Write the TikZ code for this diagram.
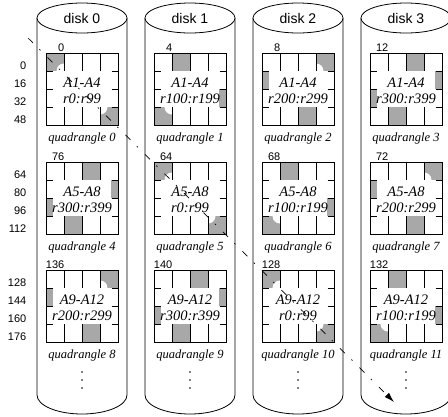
\documentclass[tikz,border=0pt]{standalone}
\usepackage{fontspec}
\setmainfont{Liberation Serif}
\setsansfont{Liberation Sans}
\usetikzlibrary{arrows.meta}
\definecolor{cellgray}{RGB}{168,168,168}
\tikzset{
  gridline/.style={line width=0.8pt, draw=black},
  numlab/.style={font=\sffamily\fontsize{11}{11}\selectfont, inner sep=0pt},
  disklab/.style={font=\sffamily\fontsize{14}{14}\selectfont, inner sep=0pt},
  quadtxt/.style={font=\itshape\fontsize{14.5}{16}\selectfont, align=center, inner sep=0pt},
  quadlab/.style={font=\itshape\fontsize{12.5}{12.5}\selectfont, inner sep=0pt},
  dotmark/.style={fill=black},
  cyl/.style={line width=0.8pt, draw=black, fill=white},
  scanline/.style={line width=0.7pt, dash pattern=on 7pt off 9pt on 1.5pt off 10pt,
    -{Latex[length=10pt,width=6pt]}}
}
% #1 name, #2 x, #3 y, #4 gray cells (col/row), #5 line1, #6 line2, #7 top number, #8 quadrangle number
\newcommand{\quadr}[8]{%
\begin{scope}[shift={(#2,#3)}]
  \foreach \c/\r in {#4} \fill[cellgray] ({18*\c},{18*\r}) rectangle ++(18,18);
  \fill[white] (6.5,18) rectangle (64.5,54);
  \begin{scope}
    \clip (0,0) rectangle (18,18) (54,0) rectangle (72,18) (0,54) rectangle (18,72) (54,54) rectangle (72,72);
    \foreach \px/\py in {18/18,54/18,18/54,54/54} \fill[white] (\px,\py) circle[radius=7.5pt];
  \end{scope}
  \draw[gridline] (0,0) rectangle (72,72);
  \foreach \k in {18,36,54} {
    \draw[gridline] (\k,0) -- (\k,18);
    \draw[gridline] (\k,54) -- (\k,72);
    \draw[gridline] (0,\k) -- (6.5,\k);
    \draw[gridline] (65.5,\k) -- (72,\k);
  }
  \node[quadtxt] (#1t) at (36,38) {#5\\#6};
  \node[numlab, anchor=south east] (#1n) at (18.5,-1.5) {#7};
  \node[quadlab] (#1q) at (36,85) {quadrangle #8};
\end{scope}}
\newcommand{\disk}[3]{% #1 name, #2 center x, #3 number
  \draw[cyl] ({#2-45},18) -- ({#2-45},395) .. controls ({#2-45},405.5) and ({#2-24.85},414) .. ({#2},414)
     .. controls ({#2+24.85},414) and ({#2+45},405.5) .. ({#2+45},395) -- ({#2+45},18);
  \draw[cyl] (#2,18) ellipse [x radius=45pt, y radius=15pt];
  \node[disklab] (#1) at (#2,18) {disk #3};
  \foreach \dy in {372,380,388} \fill[dotmark] (#2,\dy) circle[radius=0.8pt];
}
\begin{document}
\begin{tikzpicture}[x=1pt, y=-1pt]
\useasboundingbox (0,0) rectangle (448,416);
\fill[white] (0,0) rectangle (448,416);
\disk{d0}{82}{0}
\disk{d1}{190}{1}
\disk{d2}{298}{2}
\disk{d3}{406}{3}
% row A
\quadr{q0}{46}{53}{0/0,3/3}{A1-A4}{r0:r99}{0}{0}
\quadr{q1}{154}{53}{1/0,3/2,0/3}{A1-A4}{r100:r199}{4}{1}
\quadr{q2}{262}{53}{3/0,0/1,2/3}{A1-A4}{r200:r299}{8}{2}
\quadr{q3}{370}{53}{2/0,3/1,0/2,1/3}{A1-A4}{r300:r399}{12}{3}
% row B
\quadr{q4}{46}{162}{2/0,3/1,0/2,1/3}{A5-A8}{r300:r399}{76}{4}
\quadr{q5}{154}{162}{0/0,3/3}{A5-A8}{r0:r99}{64}{5}
\quadr{q6}{262}{162}{1/0,3/2,0/3}{A5-A8}{r100:r199}{68}{6}
\quadr{q7}{370}{162}{3/0,0/1,2/3}{A5-A8}{r200:r299}{72}{7}
% row C
\quadr{q8}{46}{270}{3/0,0/1,2/3}{A9-A12}{r200:r299}{136}{8}
\quadr{q9}{154}{270}{2/0,3/1,0/2,1/3}{A9-A12}{r300:r399}{140}{9}
\quadr{q10}{262}{270}{0/0,3/3}{A9-A12}{r0:r99}{128}{10}
\quadr{q11}{370}{270}{1/0,3/2,0/3}{A9-A12}{r100:r199}{132}{11}
% row labels
\foreach \v [count=\i from 0] in {0,16,32,48}
  \node[numlab, anchor=base east] (ra\i) at (26.5,{53+16+18.3*\i}) {\v};
\foreach \v [count=\i from 0] in {64,80,96,112}
  \node[numlab, anchor=base east] (rb\i) at (26.5,{162+16+18.3*\i}) {\v};
\foreach \v [count=\i from 0] in {128,144,160,176}
  \node[numlab, anchor=base east] (rc\i) at (26.5,{270+16+18.3*\i}) {\v};
% scan path
\coordinate (scanstart) at (28,38);
\coordinate (scanend) at (394,402);
\draw[scanline] (scanstart) -- (scanend);
\end{tikzpicture}
\end{document}
